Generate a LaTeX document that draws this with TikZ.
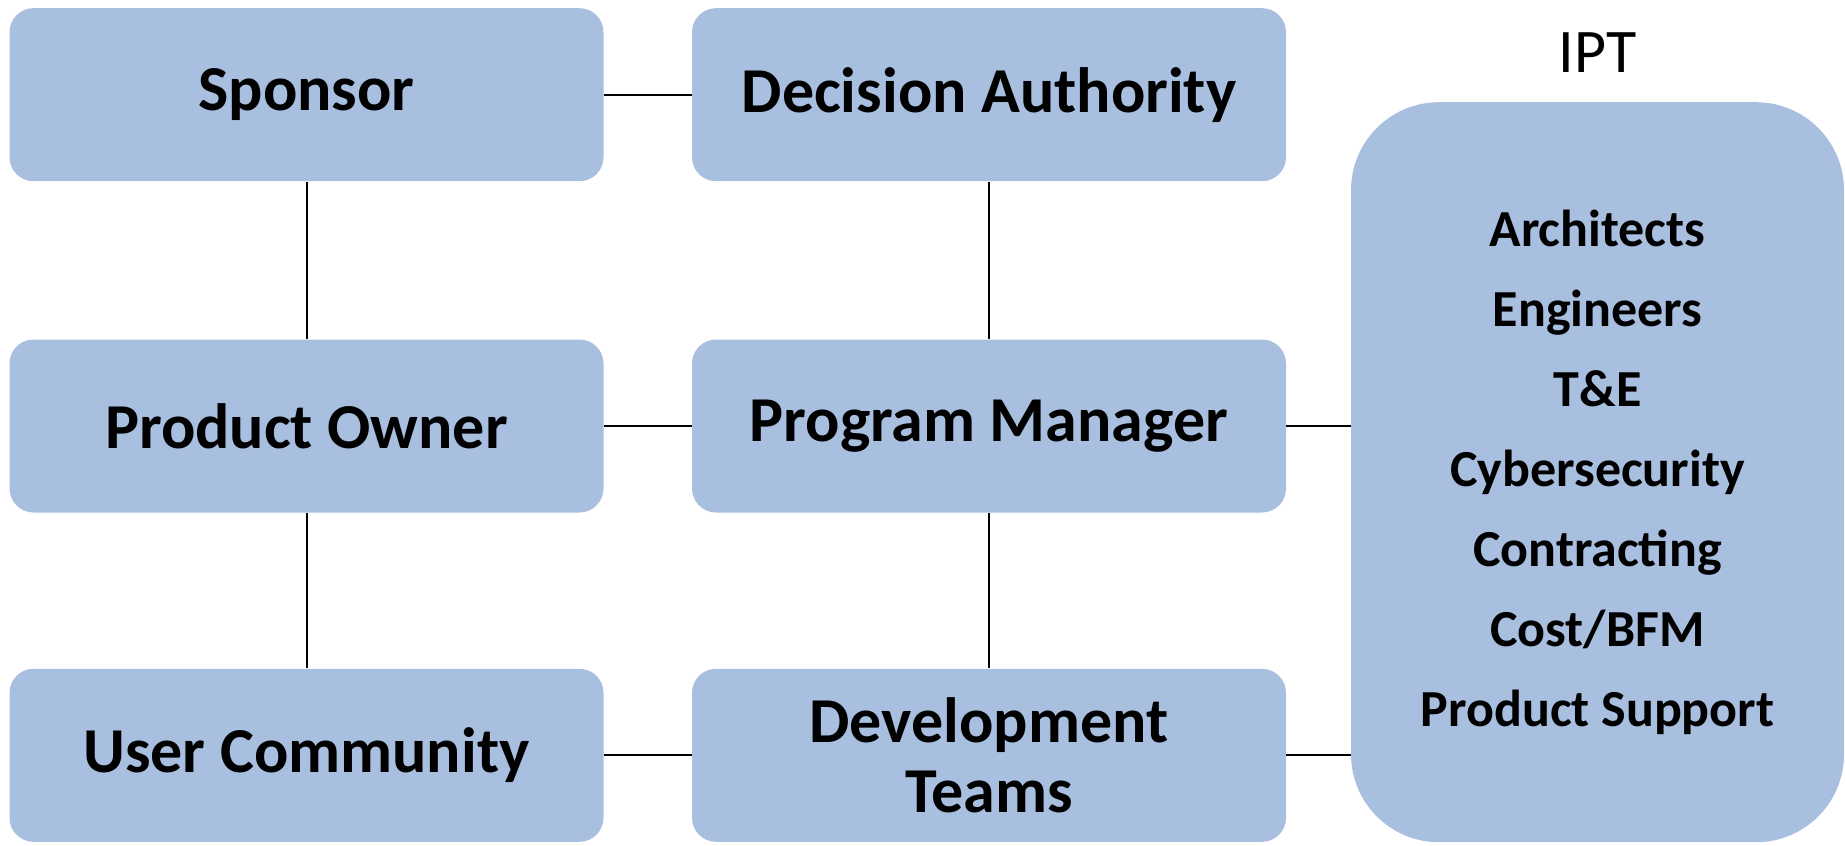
\documentclass[tikz,border=0pt]{standalone}
\usepackage{fontspec}
\setmainfont{Carlito}
\definecolor{boxblue}{RGB}{169,191,223}
\begin{document}
\begin{tikzpicture}[x=0.5pt,y=-0.5pt]
    \tikzstyle{role}=[fill=boxblue,rounded corners=12pt,minimum width=297pt,minimum height=86.5pt,align=center,font=\fontsize{32}{35}\selectfont\bfseries]
    \tikzstyle{team}=[fill=boxblue,rounded corners=44pt,minimum width=246.5pt,minimum height=370pt,align=center,font=\fontsize{26}{40}\selectfont\bfseries]
    \tikzstyle{link}=[line width=1pt]
    \useasboundingbox (0,0) rectangle (1845,845);

    \node[role] (sponsor) at (306.5,94.7) {Sponsor};
    \node[role] (authority) at (989,94.7) {Decision Authority};
    \node[role] (owner) at (306.5,426) {Product Owner};
    \node[role] (manager) at (989,426) {Program Manager};
    \node[role] (users) at (306.5,755.3) {User Community};
    \node[role] (devteams) at (989,755.3) {Development\\Teams};

    \node[team] (ipt) at (1597.5,472.2) {Architects\\Engineers\\T\&E\\Cybersecurity\\Contracting\\Cost/BFM\\Product Support};
    \node[font=\fontsize{31}{36}\selectfont] (ipttitle) at (1597.5,53) {IPT};

    \draw[link] (sponsor) -- (authority);
    \draw[link] (owner) -- (manager);
    \draw[link] (users) -- (devteams);
    \draw[link] (sponsor) -- (owner);
    \draw[link] (owner) -- (users);
    \draw[link] (authority) -- (manager);
    \draw[link] (manager) -- (devteams);
    \draw[link] (manager.east) -- (manager.east -| ipt.west);
    \draw[link] (devteams.east) -- (devteams.east -| ipt.west);
  \end{tikzpicture}
\end{document}
